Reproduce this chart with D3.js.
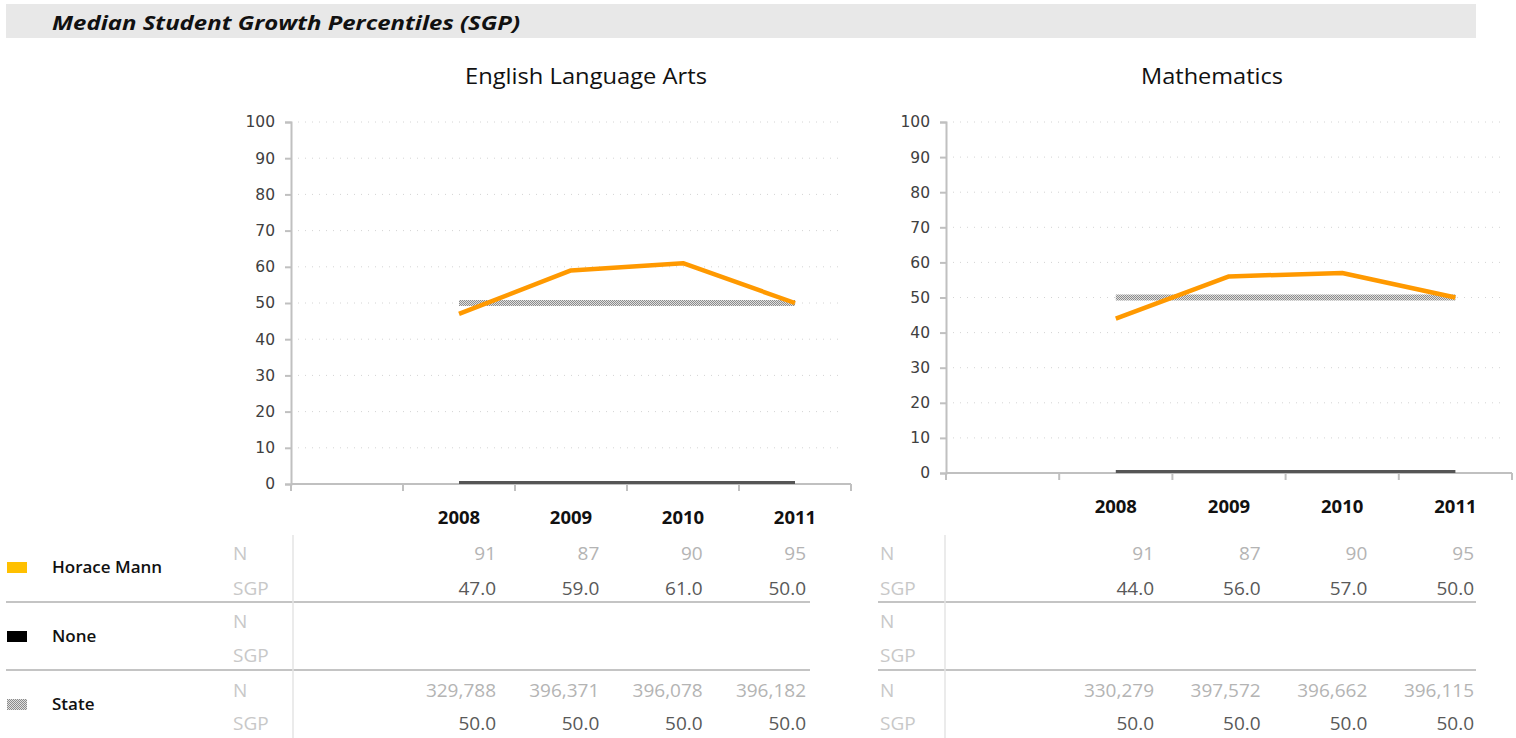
<!DOCTYPE html>
<html lang="en">
<head>
    <meta charset="UTF-8">
    <title>Median Student Growth Percentiles</title>
    <script src="https://d3js.org/d3.v7.min.js"></script>
    <style>
        body { margin: 0; background: #fff; }
        text { font-family: "Open Sans", "Noto Sans", sans-serif; }
    </style>
</head>
<body>
    <svg id="sgp" width="1516" height="738"></svg>

    <script>
        // data
        const years = ["2008", "2009", "2010", "2011"];
        const groups = ["Horace Mann", "None", "State"];
        const yTickValues = [0, 10, 20, 30, 40, 50, 60, 70, 80, 90, 100];

        const elaSchoolN = [91, 87, 90, 95];
        const elaSchoolSGP = [47, 59, 61, 50];
        const elaStateN = [329788, 396371, 396078, 396182];
        const elaStateSGP = [50, 50, 50, 50];

        const mathSchoolN = [91, 87, 90, 95];
        const mathSchoolSGP = [44, 56, 57, 50];
        const mathStateN = [330279, 397572, 396662, 396115];
        const mathStateSGP = [50, 50, 50, 50];

        const svg = d3.select("#sgp");

        const defs = svg.append("defs");
        const pat = defs.append("pattern")
            .attr("id", "checker")
            .attr("patternUnits", "userSpaceOnUse")
            .attr("width", 2).attr("height", 2);
        pat.append("rect").attr("width", 2).attr("height", 2).attr("fill", "#e0e0e0");
        pat.append("rect").attr("width", 1).attr("height", 1).attr("fill", "#8c8c8c");
        pat.append("rect").attr("x", 1).attr("y", 1).attr("width", 1).attr("height", 1).attr("fill", "#8c8c8c");

        // header bar
        svg.append("rect")
            .attr("x", 6).attr("y", 4)
            .attr("width", 1470).attr("height", 34)
            .attr("fill", "#e8e8e8");
        svg.append("text")
            .attr("x", 52).attr("y", 30)
            .attr("font-size", 20)
            .attr("font-weight", "bold")
            .attr("font-style", "italic")
            .attr("textLength", 468)
            .attr("lengthAdjust", "spacingAndGlyphs")
            .attr("fill", "#111")
            .text("Median Student Growth Percentiles (SGP)");

        function drawChart(opt) {
            const g = svg.append("g");
            const x = d3.scaleBand()
                .domain([""].concat(years))
                .range([opt.left, opt.right]);
            const y = d3.scaleLinear().domain([0, 100]).range([opt.bottom, opt.top]);
            const cx = d => x(d) + x.bandwidth() / 2;

            g.append("text")
                .attr("x", opt.titleX).attr("y", 84)
                .attr("text-anchor", "middle")
                .attr("font-size", 21)
                .attr("textLength", opt.titleLen)
                .attr("lengthAdjust", "spacingAndGlyphs")
                .attr("fill", "#111")
                .text(opt.title);

            // dotted grid
            g.selectAll(".grid")
                .data(yTickValues.filter(v => v > 0))
                .enter().append("line")
                .attr("x1", opt.left).attr("x2", opt.right - 8)
                .attr("y1", d => y(d)).attr("y2", d => y(d))
                .attr("stroke", "#d4d4d4")
                .attr("stroke-width", 1)
                .attr("stroke-dasharray", "1,6");

            // y axis
            const yAxis = g.append("g")
                .attr("transform", `translate(${opt.left},0)`)
                .call(d3.axisLeft(y).tickValues(yTickValues).tickSize(6).tickPadding(10));
            yAxis.select(".domain").attr("stroke", "#c0c0c0").attr("stroke-width", 2);
            yAxis.selectAll(".tick line").attr("stroke", "#c0c0c0").attr("stroke-width", 2);
            yAxis.selectAll("text")
                .attr("font-size", 15.5)
                .attr("fill", "#404040")
                .style("font-family", "'DejaVu Sans', sans-serif");

            // x axis with ticks between categories
            g.append("line")
                .attr("x1", opt.left).attr("x2", opt.right)
                .attr("y1", opt.bottom).attr("y2", opt.bottom)
                .attr("stroke", "#c0c0c0").attr("stroke-width", 2);
            g.selectAll(".xt")
                .data(x.domain().concat(["end"]))
                .enter().append("line")
                .attr("x1", (d, i) => opt.left + i * x.bandwidth())
                .attr("x2", (d, i) => opt.left + i * x.bandwidth())
                .attr("y1", opt.bottom).attr("y2", opt.bottom + 7)
                .attr("stroke", "#c0c0c0").attr("stroke-width", 2);
            g.selectAll(".xl")
                .data(years)
                .enter().append("text")
                .attr("x", d => cx(d))
                .attr("y", opt.bottom + 40)
                .attr("text-anchor", "middle")
                .attr("font-size", 18.5)
                .attr("font-weight", "bold")
                .attr("fill", "#111")
                .text(d => d);

            const line = d3.line()
                .x((d, i) => cx(years[i]))
                .y(d => y(d));

            // None series sits on zero
            g.append("path")
                .datum(years.map(() => 0))
                .attr("d", line)
                .attr("transform", "translate(0,-1.5)")
                .attr("fill", "none")
                .attr("stroke", "#555")
                .attr("stroke-width", 3);

            g.append("path")
                .datum(opt.stateSGP)
                .attr("d", line)
                .attr("fill", "none")
                .attr("stroke", "url(#checker)")
                .attr("stroke-width", 6);

            g.append("path")
                .datum(opt.schoolSGP)
                .attr("d", line)
                .attr("fill", "none")
                .attr("stroke", "#ff9900")
                .attr("stroke-width", 4.5)
                .attr("stroke-linejoin", "round");

            // data table
            const tx = d3.scalePoint().domain(years).range([opt.colFirst, opt.colLast]);
            const rowY = [560, 595, 628, 662, 697, 730];
            const rows = [
                { vals: opt.schoolN, fmt: d3.format(","), strong: false },
                { vals: opt.schoolSGP, fmt: d3.format(".1f"), strong: true },
                { vals: null },
                { vals: null },
                { vals: opt.stateN, fmt: d3.format(","), strong: false },
                { vals: opt.stateSGP, fmt: d3.format(".1f"), strong: true }
            ];
            rows.forEach((r, i) => {
                g.append("text")
                    .attr("x", opt.labelX).attr("y", rowY[i])
                    .attr("font-size", 19)
                    .attr("fill", "#c8c8c8")
                    .text(i % 2 === 0 ? "N" : "SGP");
                if (!r.vals) return;
                g.selectAll(null)
                    .data(r.vals)
                    .enter().append("text")
                    .attr("x", (d, j) => tx(years[j]))
                    .attr("y", rowY[i])
                    .attr("text-anchor", "end")
                    .attr("font-size", 19)
                    .attr("fill", r.strong ? "#595959" : "#b4b4b4")
                    .text(d => r.fmt(d));
            });
            [602, 670].forEach(yy => {
                g.append("line")
                    .attr("x1", opt.sepLeft).attr("x2", opt.sepRight)
                    .attr("y1", yy).attr("y2", yy)
                    .attr("stroke", "#c4c4c4").attr("stroke-width", 2);
            });
            g.append("line")
                .attr("x1", opt.vline).attr("x2", opt.vline)
                .attr("y1", 535).attr("y2", 738)
                .attr("stroke", "#e4e4e4").attr("stroke-width", 1.5);
        }

        drawChart({
            title: "English Language Arts", titleX: 586, titleLen: 242,
            left: 291, right: 851, top: 122, bottom: 484,
            schoolN: elaSchoolN, schoolSGP: elaSchoolSGP,
            stateN: elaStateN, stateSGP: elaStateSGP,
            labelX: 233, colFirst: 496, colLast: 806,
            sepLeft: 6, sepRight: 810, vline: 293
        });
        drawChart({
            title: "Mathematics", titleX: 1212, titleLen: 142,
            left: 946, right: 1512, top: 122, bottom: 473,
            schoolN: mathSchoolN, schoolSGP: mathSchoolSGP,
            stateN: mathStateN, stateSGP: mathStateSGP,
            labelX: 880, colFirst: 1154, colLast: 1474,
            sepLeft: 878, sepRight: 1476, vline: 945
        });

        // legend
        const legendY = [567, 636, 704];
        const legendFill = ["#ffc000", "#000", "url(#checker)"];
        groups.forEach((name, i) => {
            svg.append("rect")
                .attr("x", 7).attr("y", legendY[i] - 5)
                .attr("width", 20).attr("height", 11)
                .attr("fill", legendFill[i]);
            svg.append("text")
                .attr("x", 52).attr("y", legendY[i] + 6)
                .attr("font-size", 17)
                .attr("font-weight", 600)
                .attr("fill", "#111")
                .text(name);
        });
    </script>
</body>
</html>
